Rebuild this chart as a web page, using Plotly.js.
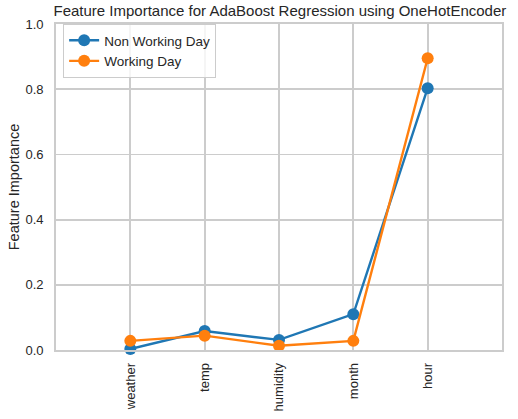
<!DOCTYPE html>
<html>
<head>
<meta charset="utf-8">
<script src="https://cdn.plot.ly/plotly-3.0.1.min.js"></script>
<style>html,body{margin:0;padding:0;background:#fff;}#chart{width:518px;height:419px;}</style>
</head>
<body>
<div id="chart"></div>
<script>
const features = ["weather", "temp", "humidity", "month", "hour"];
const nonWorkingDay = [0.003, 0.058, 0.031, 0.110, 0.803];
const workingDay = [0.028, 0.044, 0.013, 0.028, 0.895];

const font = "Liberation Sans, Arial, sans-serif";
const traces = [
  {x: features, y: nonWorkingDay, name: "Non Working Day", type: "scatter", mode: "lines+markers",
   line: {color: "#1f77b4", width: 2.4}, marker: {color: "#1f77b4", size: 12}, cliponaxis: false},
  {x: features, y: workingDay, name: "Working Day", type: "scatter", mode: "lines+markers",
   line: {color: "#ff7f0e", width: 2.4}, marker: {color: "#ff7f0e", size: 12}, cliponaxis: false}
];
const layout = {
  width: 518, height: 419,
  margin: {l: 56, r: 16, t: 24, b: 69},
  paper_bgcolor: "#fff", plot_bgcolor: "#fff",
  font: {family: font, size: 13, color: "#262626"},
  title: {text: "Feature Importance for AdaBoost Regression using OneHotEncoder",
          font: {family: font, size: 15, color: "#262626"},
          x: 0.502, xref: "paper", xanchor: "center", y: 0.988, yanchor: "top"},
  xaxis: {type: "category", range: [-1, 5], tickangle: -90,
          showgrid: true, gridcolor: "#cccccc", gridwidth: 1.8,
          showline: true, mirror: true, linecolor: "#cccccc", linewidth: 1.8,
          ticks: "outside", ticklen: 6, tickcolor: "rgba(0,0,0,0)", tickfont: {size: 13}, zeroline: false},
  yaxis: {range: [0, 1], dtick: 0.2, tickformat: ".1f",
          showgrid: true, gridcolor: "#cccccc", gridwidth: 1.8,
          showline: true, mirror: true, linecolor: "#cccccc", linewidth: 1.8,
          ticks: "outside", ticklen: 8, tickcolor: "rgba(0,0,0,0)", zeroline: false, tickfont: {size: 13},
          title: {text: "Feature Importance", font: {size: 14.5}, standoff: 2}},
  legend: {x: 0.016, y: 1.0, xanchor: "left", yanchor: "top",
           bgcolor: "rgba(255,255,255,0.8)", bordercolor: "#cccccc", borderwidth: 1,
           font: {size: 13.5}, tracegroupgap: 0},
  showlegend: true
};
Plotly.newPlot("chart", traces, layout, {displayModeBar: false, staticPlot: true});
</script>
</body>
</html>
